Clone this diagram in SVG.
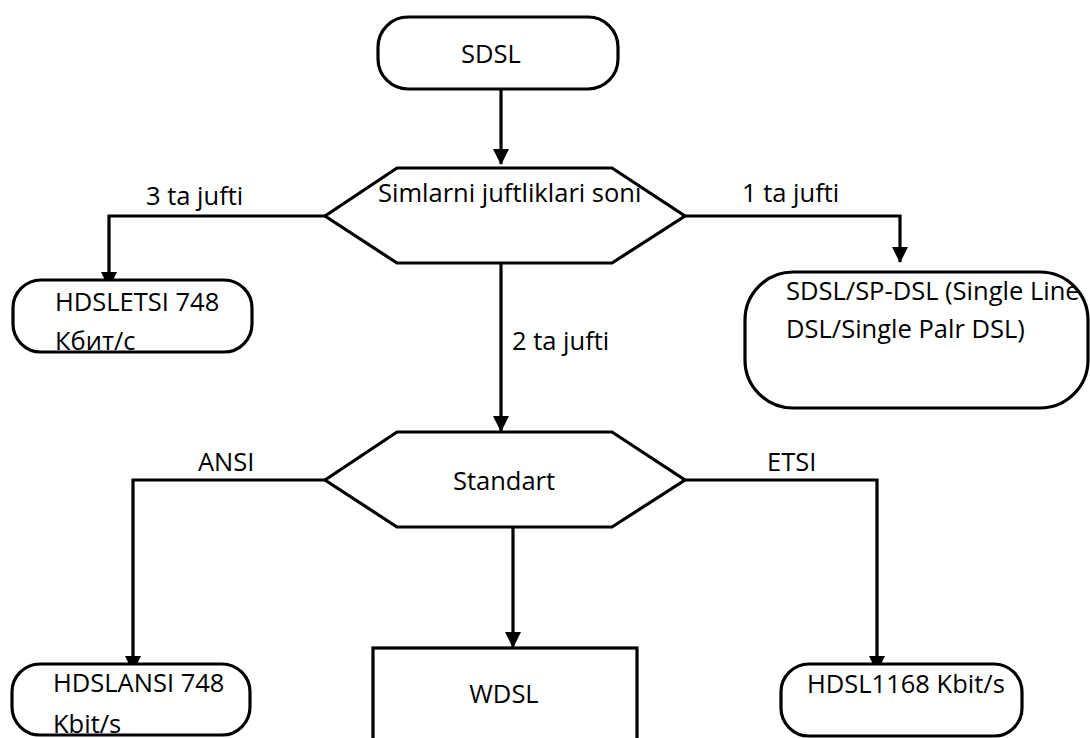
<svg xmlns="http://www.w3.org/2000/svg" width="1090" height="738" viewBox="0 0 1090 738">
  <style>
    .shape { fill: #ffffff; stroke: #000000; stroke-width: 3.2; }
    .edge { fill: none; stroke: #000000; stroke-width: 3.2; }
    .label { font-family: "Open Sans", "Liberation Sans", sans-serif; font-size: 25.5px; fill: #000000; }
  </style>
  <defs>
    <marker id="arrow" markerUnits="userSpaceOnUse" markerWidth="16" markerHeight="16" refX="15" refY="8" orient="auto">
      <path d="M0,0 L16,8 L0,16 Z" fill="#000000"/>
    </marker>
  </defs>

  <!-- connectors -->
  <g id="connectors">
    <line class="edge" x1="501" y1="90" x2="501" y2="164" marker-end="url(#arrow)"/>
    <polyline class="edge" points="325,216 109,216 109,287" marker-end="url(#arrow)"/>
    <polyline class="edge" points="685,216 900,216 900,262" marker-end="url(#arrow)"/>
    <line class="edge" x1="501" y1="263" x2="501" y2="431" marker-end="url(#arrow)"/>
    <polyline class="edge" points="325,480 133,480 133,671" marker-end="url(#arrow)"/>
    <polyline class="edge" points="685,480 877,480 877,671" marker-end="url(#arrow)"/>
    <line class="edge" x1="513" y1="528" x2="513" y2="647" marker-end="url(#arrow)"/>
    <text class="label" x="146" y="205">3 ta jufti</text>
    <text class="label" x="742" y="202">1 ta jufti</text>
    <text class="label" x="512" y="350">2 ta jufti</text>
    <text class="label" x="198" y="471">ANSI</text>
    <text class="label" x="767" y="471">ETSI</text>
  </g>

  <!-- start node -->
  <g id="node-sdsl">
    <rect class="shape" x="378" y="17" width="240" height="72" rx="30" ry="30"/>
    <text class="label" x="491" y="63" text-anchor="middle">SDSL</text>
  </g>

  <!-- decision: number of wire pairs -->
  <g id="node-pairs">
    <polygon class="shape" points="325,216 397,168 612,168 685,216 612,263 397,263"/>
    <text class="label" x="378" y="202">Simlarni juftliklari soni</text>
  </g>

  <g id="node-hdsl-etsi">
    <rect class="shape" x="13" y="280" width="239" height="72" rx="28" ry="28"/>
    <text class="label" x="55" y="311">HDSLETSI 748</text>
    <text class="label" x="55" y="350">Кбит/с</text>
  </g>

  <g id="node-sdsl-spdsl">
    <rect class="shape" x="745" y="272" width="343" height="136" rx="48" ry="48"/>
    <text class="label" x="786" y="300">SDSL/SP-DSL (Single Line</text>
    <text class="label" x="786" y="338">DSL/Single Palr DSL)</text>
  </g>

  <!-- decision: standard -->
  <g id="node-standard">
    <polygon class="shape" points="325,480 397,432 612,432 685,480 612,527 397,527"/>
    <text class="label" x="504" y="490" text-anchor="middle">Standart</text>
  </g>

  <g id="node-hdsl-ansi">
    <rect class="shape" x="12" y="664" width="238" height="71" rx="28" ry="28"/>
    <text class="label" x="53" y="692">HDSLANSI 748</text>
    <text class="label" x="53" y="733">Kbit/s</text>
  </g>

  <g id="node-wdsl">
    <rect class="shape" x="373" y="648" width="264" height="110"/>
    <text class="label" x="504" y="703" text-anchor="middle">WDSL</text>
  </g>

  <g id="node-hdsl1168">
    <rect class="shape" x="781" y="664" width="241" height="72" rx="28" ry="28"/>
    <text class="label" x="807" y="693">HDSL1168 Kbit/s</text>
  </g>
</svg>
